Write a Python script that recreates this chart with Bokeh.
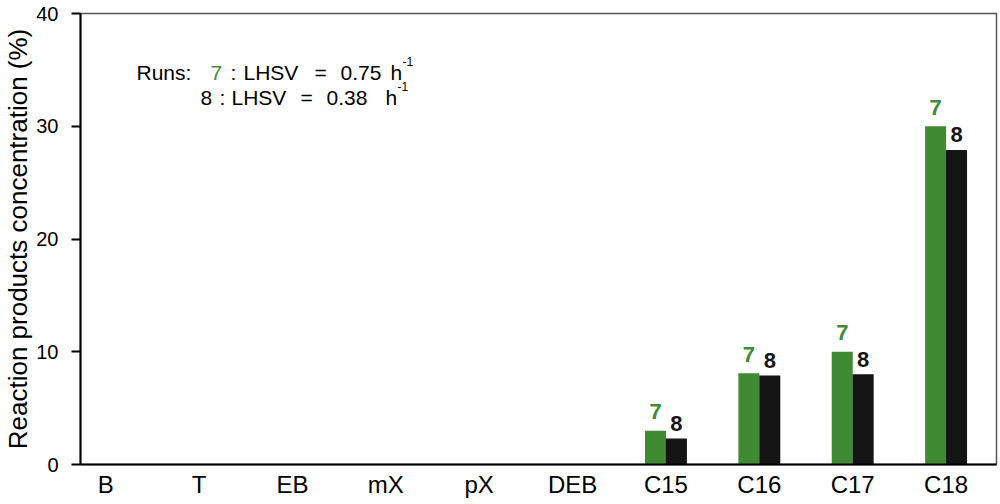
from bokeh.plotting import figure
from bokeh.models import Range1d, ColumnDataSource, Label, FixedTicker
from bokeh.core.properties import value
from bokeh.embed import file_html
from bokeh.resources import INLINE

categories = ["B", "T", "EB", "mX", "pX", "DEB", "C15", "C16", "C17", "C18"]
run7 = [0, 0, 0, 0, 0, 0, 3.0, 8.1, 10.0, 30.0]
run8 = [0, 0, 0, 0, 0, 0, 2.3, 7.9, 8.0, 27.9]
labeled = ["C15", "C16", "C17", "C18"]
y_ticks = [0, 10, 20, 30, 40]

GREEN = "#418a34"
BLACK = "#141414"
FONT = "Liberation Sans"

idx = list(range(len(categories)))
bw = 0.225
off = 0.112

p = figure(width=998, height=504, output_backend="svg", toolbar_location=None,
           x_range=Range1d(-0.27, 9.54), y_range=Range1d(0, 40),
           min_border_left=78, min_border_right=2, min_border_top=13, min_border_bottom=40)
p.xgrid.visible = False
p.ygrid.visible = False
p.outline_line_color = "#555555"
p.outline_line_width = 1.5

src7 = ColumnDataSource(dict(x=[i - off for i in idx], top=run7))
src8 = ColumnDataSource(dict(x=[i + off for i in idx], top=run8))
p.vbar(x="x", top="top", width=bw, source=src7, fill_color=GREEN, line_color=None)
p.vbar(x="x", top="top", width=bw, source=src8, fill_color=BLACK, line_color=None)

lab_i = [categories.index(c) for c in labeled]
t7 = ColumnDataSource(dict(x=[i - off for i in lab_i], y=[run7[i] for i in lab_i], t=["7"] * len(lab_i)))
t8 = ColumnDataSource(dict(x=[i + off for i in lab_i], y=[run8[i] for i in lab_i], t=["8"] * len(lab_i)))
p.text(x="x", y="y", text="t", source=t7, text_color=GREEN, text_font=value(FONT),
       text_font_size="22px", text_font_style="bold", text_align="center",
       text_baseline="alphabetic", y_offset=-19)
p.text(x="x", y="y", text="t", source=t8, text_color=BLACK, text_font=value(FONT),
       text_font_size="22px", text_font_style="bold", text_align="center",
       text_baseline="alphabetic", y_offset=-15)

# axes
p.xaxis.ticker = FixedTicker(ticks=idx)
p.xaxis.major_label_overrides = {i: c for i, c in zip(idx, categories)}
p.xaxis.major_tick_line_color = None
p.xaxis.minor_tick_line_color = None
p.xaxis.axis_line_color = "black"
p.xaxis.axis_line_width = 2
p.xaxis.major_label_text_font = FONT
p.xaxis.major_label_text_font_size = "24px"
p.xaxis.major_label_text_color = "black"
p.xaxis.major_label_standoff = 0

p.yaxis.ticker = FixedTicker(ticks=y_ticks)
p.yaxis.minor_tick_line_color = None
p.yaxis.axis_line_color = "black"
p.yaxis.axis_line_width = 2
p.yaxis.major_tick_line_color = "black"
p.yaxis.major_tick_line_width = 2
p.yaxis.major_tick_out = 9
p.yaxis.major_tick_in = 0
p.yaxis.major_label_text_font = FONT
p.yaxis.major_label_text_font_size = "20px"
p.yaxis.major_label_text_color = "black"
p.yaxis.major_label_standoff = 13
p.yaxis.axis_label = "Reaction products concentration (%)"
p.yaxis.axis_label_text_font = FONT
p.yaxis.axis_label_text_font_size = "26px"
p.yaxis.axis_label_text_font_style = "normal"
p.yaxis.axis_label_text_color = "black"
p.yaxis.axis_label_standoff = 0

# annotation text (screen units relative to the plot frame)
def lab(x, y, text, color="black", size="21px"):
    p.add_layout(Label(x=x - 4, y=y + 6, x_units="screen", y_units="screen", text=text,
                       text_color=color, text_font=FONT, text_font_size=size,
                       text_baseline="alphabetic"))

# line 1
lab(60, 386, "Runs:")
lab(134, 386, "7", GREEN)
lab(154, 386, ":")
lab(167, 386, "LHSV")
lab(238, 386, "=")
lab(264, 386, "0.75")
lab(314, 386, "h")
lab(326, 397, "-1", size="12px")
# line 2
lab(124, 361, "8")
lab(143, 361, ":")
lab(155, 361, "LHSV")
lab(224, 361, "=")
lab(250, 361, "0.38")
lab(309, 361, "h")
lab(321, 372, "-1", size="12px")

open("out.html", "w").write(file_html(p, INLINE))
